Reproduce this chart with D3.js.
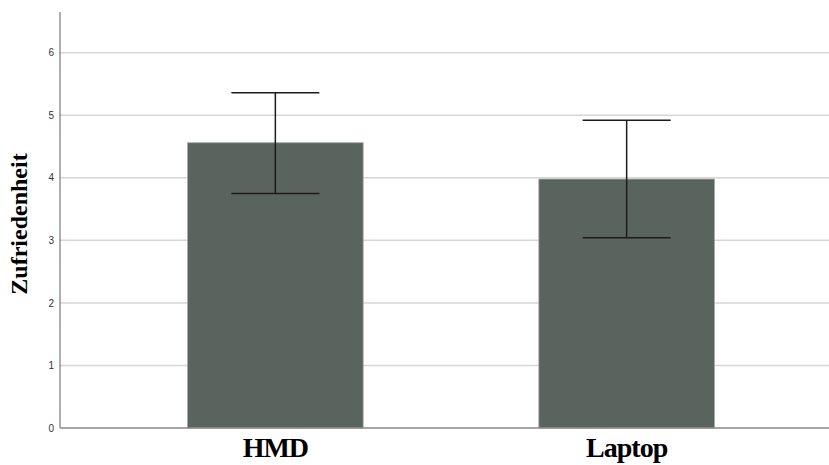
<!DOCTYPE html>
<html>
<head>
<meta charset="utf-8">
<script src="https://cdn.jsdelivr.net/npm/d3@7"></script>
<style>
  body { margin: 0; background: #fff; }
</style>
</head>
<body>
<script>
// data
const categories = ["HMD", "Laptop"];
const means = [4.56, 3.98];
const ciLow = [3.75, 3.04];
const ciHigh = [5.36, 4.92];
const yTicks = [0, 1, 2, 3, 4, 5, 6];

const width = 829, height = 465;
const plotLeft = 60, plotBottom = 428, plotTop = 12;

const svg = d3.select("body").append("svg")
    .attr("width", width)
    .attr("height", height);

const y = d3.scaleLinear()
    .domain([0, 6.65])
    .range([plotBottom, plotTop]);

const x = d3.scaleBand()
    .domain(categories)
    .range([plotLeft, 842])
    .paddingInner(0.5)
    .paddingOuter(0.363);

// gridlines
svg.append("g")
  .selectAll("line")
  .data(yTicks.filter(d => d > 0))
  .enter().append("line")
    .attr("x1", plotLeft).attr("x2", width)
    .attr("y1", d => y(d)).attr("y2", d => y(d))
    .attr("stroke", "#d6d6d6")
    .attr("stroke-width", 1.5);

// bars
svg.append("g")
  .selectAll("rect")
  .data(categories)
  .enter().append("rect")
    .attr("x", d => x(d))
    .attr("width", x.bandwidth())
    .attr("y", (d, i) => y(means[i]))
    .attr("height", (d, i) => plotBottom - y(means[i]))
    .attr("fill", "#5a645e")
    .attr("stroke", "#a4aaa6")
    .attr("stroke-width", 0.8);

// error bars
const err = svg.append("g")
  .selectAll("g")
  .data(categories)
  .enter().append("g")
    .attr("stroke", "#1c1c1c")
    .attr("stroke-width", 1.5);

const cx = d => x(d) + x.bandwidth() / 2;
const cap = 44;

err.append("line")
    .attr("x1", cx).attr("x2", cx)
    .attr("y1", (d, i) => y(ciLow[i]))
    .attr("y2", (d, i) => y(ciHigh[i]));
err.append("line")
    .attr("x1", d => cx(d) - cap).attr("x2", d => cx(d) + cap)
    .attr("y1", (d, i) => y(ciHigh[i]))
    .attr("y2", (d, i) => y(ciHigh[i]));
err.append("line")
    .attr("x1", d => cx(d) - cap).attr("x2", d => cx(d) + cap)
    .attr("y1", (d, i) => y(ciLow[i]))
    .attr("y2", (d, i) => y(ciLow[i]));

// y axis
const yAxis = svg.append("g")
    .attr("transform", "translate(" + plotLeft + ",0)")
    .call(d3.axisLeft(y).tickValues(yTicks).tickFormat(d3.format("d")).tickSize(0).tickPadding(6));
yAxis.select(".domain").remove();
yAxis.selectAll("text")
    .attr("font-family", "Liberation Sans, Arial, sans-serif")
    .attr("font-size", 10)
    .attr("fill", "#333");

svg.append("line")
    .attr("x1", plotLeft).attr("x2", plotLeft)
    .attr("y1", plotTop).attr("y2", plotBottom)
    .attr("stroke", "#777")
    .attr("stroke-width", 1.2);

// x axis
svg.append("line")
    .attr("x1", plotLeft).attr("x2", width)
    .attr("y1", plotBottom).attr("y2", plotBottom)
    .attr("stroke", "#888")
    .attr("stroke-width", 1.5);

svg.append("g")
  .selectAll("text")
  .data(categories)
  .enter().append("text")
    .attr("x", cx)
    .attr("y", 457)
    .attr("text-anchor", "middle")
    .attr("font-family", "Liberation Serif, Times New Roman, serif")
    .attr("font-weight", "bold")
    .attr("font-size", 28)
    .attr("letter-spacing", -1)
    .attr("fill", "#000")
    .text(d => d);

// y title
svg.append("text")
    .attr("transform", "translate(27,224) rotate(-90)")
    .attr("text-anchor", "middle")
    .attr("font-family", "Liberation Serif, Times New Roman, serif")
    .attr("font-weight", "bold")
    .attr("font-size", 24)
    .attr("fill", "#000")
    .text("Zufriedenheit");
</script>
</body>
</html>
